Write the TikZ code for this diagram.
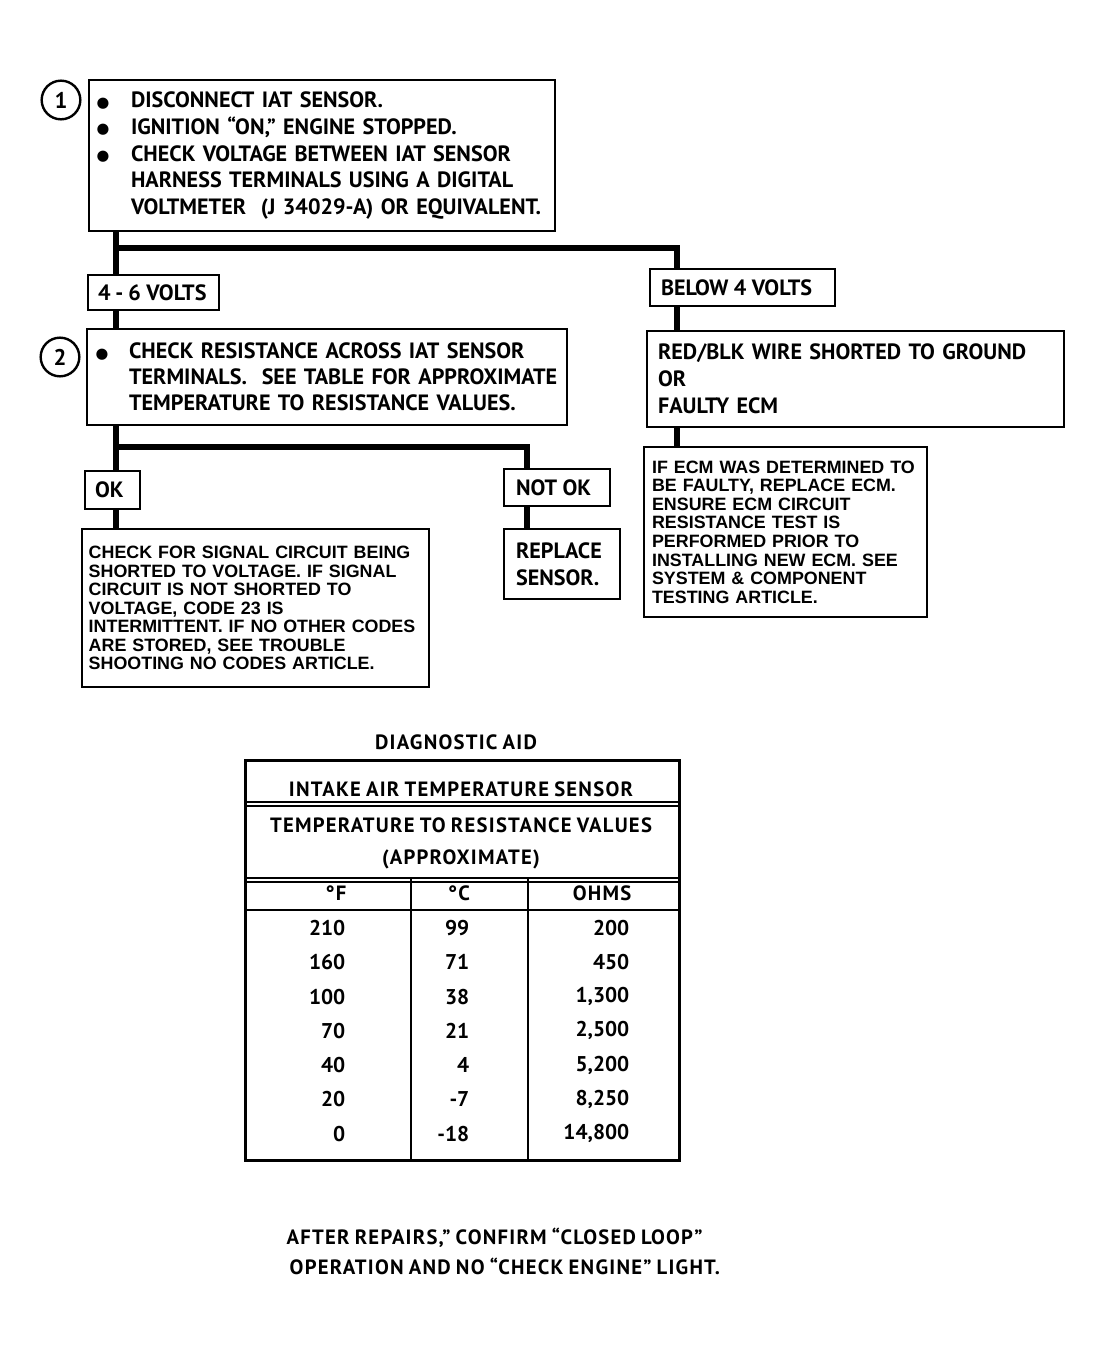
\documentclass[tikz,border=0pt]{standalone}
\usepackage{fontspec}
\setmainfont{PT Sans}
\newfontfamily\fr{PT Sans}[BoldFont={PT Sans Bold},WordSpace=0.7]
\newfontfamily\frw{PT Sans}[BoldFont={PT Sans Bold},LetterSpace=6,WordSpace=0.8]
\newfontfamily\hv{Liberation Sans}
\newfontfamily\dv{DejaVu Sans}
\newcommand{\blt}{\hspace*{-2.5pt}\raisebox{0.5pt}{\dv\fontsize{11}{11}\selectfont ●}}
\newcommand{\oneline}[1]{\mbox{#1}}
\begin{document}
\begin{tikzpicture}[x=0.75pt,y=-0.75pt,
  box/.style={draw,line width=1.6pt,rectangle,anchor=north west,align=left,inner ysep=0pt},
  conn/.style={line width=3.8pt},
  num/.style={draw,circle,line width=1.8pt,minimum size=29pt,inner sep=0pt,font=\fr\bfseries\fontsize{17}{18}\selectfont},
  mtxt/.style={font=\fr\bfseries\fontsize{16.6}{20}\selectfont},
  htxt/.style={font=\hv\bfseries\fontsize{13.4}{13.9}\selectfont},
  ttxt/.style={font=\frw\bfseries\fontsize{15.5}{18}\selectfont},
  ntxt/.style={font=\fr\bfseries\fontsize{16}{18}\selectfont},
  tline/.style={line width=1.6pt}]
\useasboundingbox (0,0) rectangle (1102,1351);

% step 1
\node[num] (c1) at (61,100) {1};
\node[box,mtxt,minimum width=349.5pt,minimum height=113.25pt,text width=333pt,inner xsep=8.25pt] (b1) at (88,79)
 {\oneline{\makebox[23.25pt][l]{\blt}DISCONNECT IAT SENSOR.}\\
  \oneline{\makebox[23.25pt][l]{\blt}IGNITION “ON,” ENGINE STOPPED.}\\
  \oneline{\makebox[23.25pt][l]{\blt}CHECK VOLTAGE BETWEEN IAT SENSOR}\\
  \oneline{\hspace*{23.25pt}HARNESS TERMINALS USING A DIGITAL}\\
  \oneline{\hspace*{23.25pt}VOLTMETER\ \ (J 34029-A) OR EQUIVALENT.}\\[-6pt]};

\node[box,mtxt,minimum width=98.25pt,minimum height=26.25pt,text width=83.25pt,inner xsep=7.5pt] (v46) at (87,274) {\oneline{4\hspace{0.22em}-\hspace{0.22em}6\hspace{0.25em}VOLTS}};
\node[box,mtxt,minimum width=138.75pt,minimum height=27.75pt,text width=122.25pt,inner xsep=8.25pt] (vb4) at (649,268) {\oneline{BELOW\hspace{0.25em}4\hspace{0.25em}VOLTS}};

% step 2
\node[num] (c2) at (60,357) {2};
\node[box,font=\fr\bfseries\fontsize{16.6}{19.5}\selectfont,minimum width=360pt,minimum height=72pt,text width=342pt,inner xsep=9pt] (b2) at (86,328)
 {\oneline{\makebox[22.5pt][l]{\blt}CHECK RESISTANCE ACROSS IAT SENSOR}\\
  \oneline{\hspace*{22.5pt}TERMINALS.\ \ SEE TABLE FOR APPROXIMATE}\\
  \oneline{\hspace*{22.5pt}TEMPERATURE TO RESISTANCE VALUES.}};

\node[box,font=\fr\bfseries\fontsize{16.6}{20.25}\selectfont,minimum width=312.75pt,minimum height=72pt,text width=296.25pt,inner xsep=8.25pt] (rb) at (646,330)
 {\oneline{RED/BLK WIRE SHORTED TO GROUND}\\OR\\\oneline{FAULTY ECM}};

\node[box,htxt,minimum width=212.25pt,minimum height=127.5pt,text width=200.25pt,inner xsep=6pt] (ecm) at (643,446)
 {\oneline{IF ECM WAS DETERMINED TO}\\\oneline{BE FAULTY, REPLACE ECM.}\\\oneline{ENSURE ECM CIRCUIT}\\\oneline{RESISTANCE TEST IS}\\\oneline{PERFORMED PRIOR TO}\\\oneline{INSTALLING NEW ECM. SEE}\\\oneline{SYSTEM \& COMPONENT}\\\oneline{TESTING ARTICLE.}};

\node[box,mtxt,minimum width=41.25pt,minimum height=28.5pt,text width=32.25pt,inner xsep=4.5pt] (ok) at (84,470) {\oneline{\hspace*{3pt}OK}};
\node[box,mtxt,minimum width=79.5pt,minimum height=27.75pt,text width=67.5pt,inner xsep=6pt] (nok) at (503,468) {\oneline{\hspace*{3pt}NOT\hspace{0.25em}OK}};

\node[box,htxt,minimum width=258.75pt,minimum height=118.5pt,text width=250pt,inner xsep=5pt] (chk) at (81,528)
 {\oneline{CHECK FOR SIGNAL CIRCUIT BEING}\\\oneline{SHORTED TO VOLTAGE. IF SIGNAL}\\\oneline{CIRCUIT IS NOT SHORTED TO}\\\oneline{VOLTAGE, CODE 23 IS}\\\oneline{INTERMITTENT. IF NO OTHER CODES}\\\oneline{ARE STORED, SEE TROUBLE}\\\oneline{SHOOTING NO CODES ARTICLE.}\\[6pt]};

\node[box,font=\fr\bfseries\fontsize{16.6}{20.25}\selectfont,minimum width=87pt,minimum height=52.5pt,text width=75pt,inner xsep=6pt] (rep) at (503,528)
 {\hspace*{3pt}REPLACE\\\hspace*{3pt}SENSOR.};

% connectors
\coordinate (ja) at (116,248);
\coordinate (jb) at (677,248);
\coordinate (jc) at (116,447);
\coordinate (jd) at (527,447);
\draw[conn] (b1.south -| ja) -- (v46.north -| ja);
\draw[conn] (ja) -- (jb) -- (vb4.north -| jb);
\draw[conn] (v46.south -| ja) -- (b2.north -| ja);
\draw[conn] (vb4.south -| jb) -- (rb.north -| jb);
\draw[conn] (rb.south -| jb) -- (ecm.north -| jb);
\draw[conn] (b2.south -| jc) -- (ok.north -| jc);
\draw[conn] (jc) -- (jd) -- (nok.north -| jd);
\draw[conn] (ok.south -| jc) -- (chk.north -| jc);
\draw[conn] (nok.south -| jd) -- (rep.north -| jd);

% table
\node[ttxt] (dtitle) at (456,742) {DIAGNOSTIC AID};
\node[draw,line width=2pt,rectangle,anchor=north west,minimum width=325.5pt,minimum height=300pt,inner sep=0pt] (tbl) at (244,759) {};
\coordinate (r1) at (0,802);
\coordinate (r1b) at (0,806);
\coordinate (r2) at (0,878);
\coordinate (r2b) at (0,882);
\coordinate (r3) at (0,910);
\coordinate (k1) at (411,0);
\coordinate (k2) at (528,0);
\foreach \r in {r1,r1b,r2,r2b,r3}{\draw[tline] (tbl.west |- \r) -- (tbl.east |- \r);}
\draw[tline] (k1 |- r2) -- (k1 |- tbl.south);
\draw[tline] (k2 |- r2) -- (k2 |- tbl.south);

\node[ttxt] (t1) at (461,789) {INTAKE AIR TEMPERATURE SENSOR};
\node[ttxt] (t2) at (461,825) {TEMPERATURE TO RESISTANCE VALUES};
\node[ttxt] (t3) at (461,859) {(APPROXIMATE)};
\node[ttxt] (hF) at (336,893) {°F};
\node[ttxt] (hC) at (459,893) {°C};
\node[ttxt] (hO) at (602,893) {OHMS};
\foreach \f/\c/\o [count=\i from 0] in {210/99/200,160/71/450,100/38/{1,300},70/21/{2,500},40/4/{5,200},20/-7/{8,250},0/-18/{14,800}}{
  \node[ntxt,anchor=east] (f\i) at (350,928+34.3*\i) {\f};
  \node[ntxt,anchor=east] (c\i) at (474,928+34.3*\i) {\c};
  \node[ntxt,anchor=east] (o\i) at (634,928+34.3*\i) {\o};
}

% footer
\node[ttxt,anchor=west] (n1) at (282,1238) {AFTER REPAIRS,” CONFIRM “CLOSED LOOP”};
\node[ttxt,anchor=west] (n2) at (285,1266) {OPERATION AND NO “CHECK ENGINE” LIGHT.};
\end{tikzpicture}
\end{document}
